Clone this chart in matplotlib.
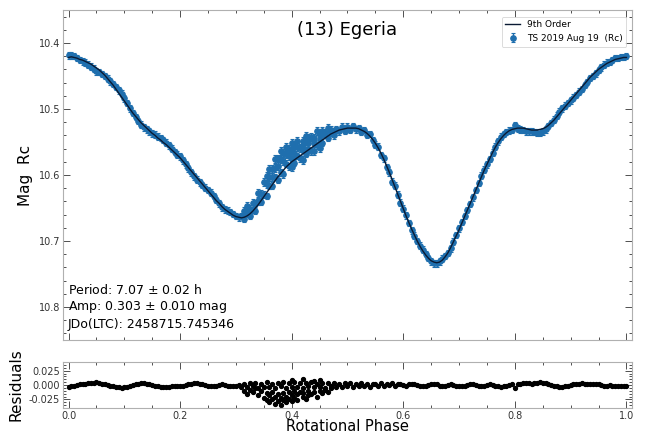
import numpy as np
import matplotlib
matplotlib.use("Agg")
import matplotlib.pyplot as plt
from matplotlib.ticker import AutoMinorLocator, MultipleLocator, FormatStrFormatter

# Rotational phase grid used for the 9th-order Fourier fit and the observations
phase = np.round(np.arange(0, 201) * 0.005, 3)

# 9th-order fit magnitude at each phase
fit_mag = [
    10.422, 10.421, 10.422, 10.423, 10.425, 10.426, 10.428, 10.430, 10.432, 10.435,
    10.438, 10.441, 10.445, 10.449, 10.454, 10.459, 10.464, 10.470, 10.476, 10.482,
    10.488, 10.494, 10.500, 10.506, 10.511, 10.516, 10.521, 10.525, 10.529, 10.533,
    10.537, 10.540, 10.544, 10.547, 10.551, 10.554, 10.558, 10.562, 10.566, 10.570,
    10.574, 10.579, 10.584, 10.589, 10.594, 10.599, 10.604, 10.609, 10.614, 10.619,
    10.624, 10.629, 10.634, 10.639, 10.643, 10.648, 10.652, 10.655, 10.658, 10.661,
    10.663, 10.664, 10.665, 10.664, 10.662, 10.659, 10.655, 10.650, 10.645, 10.639,
    10.633, 10.627, 10.621, 10.615, 10.609, 10.603, 10.598, 10.593, 10.588, 10.584,
    10.580, 10.577, 10.574, 10.571, 10.568, 10.565, 10.562, 10.559, 10.556, 10.553,
    10.550, 10.547, 10.544, 10.541, 10.538, 10.536, 10.534, 10.532, 10.531, 10.530,
    10.529, 10.529, 10.529, 10.529, 10.530, 10.532, 10.534, 10.537, 10.541, 10.546,
    10.552, 10.559, 10.567, 10.576, 10.586, 10.596, 10.607, 10.618, 10.629, 10.640,
    10.651, 10.662, 10.672, 10.682, 10.691, 10.700, 10.708, 10.715, 10.721, 10.726,
    10.730, 10.732, 10.733, 10.732, 10.729, 10.724, 10.718, 10.710, 10.701, 10.692,
    10.683, 10.673, 10.663, 10.653, 10.643, 10.633, 10.623, 10.613, 10.603, 10.593,
    10.584, 10.575, 10.566, 10.558, 10.551, 10.545, 10.540, 10.536, 10.533, 10.531,
    10.530, 10.529, 10.529, 10.529, 10.530, 10.531, 10.532, 10.532, 10.532, 10.531,
    10.530, 10.528, 10.525, 10.521, 10.517, 10.512, 10.507, 10.502, 10.497, 10.492,
    10.487, 10.482, 10.477, 10.472, 10.467, 10.462, 10.457, 10.452, 10.448, 10.444,
    10.440, 10.437, 10.434, 10.431, 10.429, 10.427, 10.425, 10.424, 10.423, 10.422,
    10.422,
]

# Observed minus fit, one value per phase bin
resid = [
    -0.003, -0.002, -0.002, 0.000, 0.001, 0.002, 0.002, 0.003, 0.004, 0.004,
    0.005, 0.003, 0.002, 0.001, 0.000, -0.001, -0.002, -0.003, -0.004, -0.005,
    -0.004, -0.003, -0.001, 0.000, 0.001, 0.002, 0.003, 0.003, 0.002, 0.001,
    0.000, -0.001, -0.002, -0.003, -0.004, -0.003, -0.003, -0.002, -0.001, -0.001,
    -0.002, -0.001, 0.000, 0.001, 0.002, 0.003, 0.003, 0.002, 0.001, 0.000,
    -0.001, -0.002, -0.002, -0.001, 0.000, 0.001, 0.000, -0.001, -0.002, -0.002,
    -0.001, 0.000, -0.003, 0.002, -0.004, 0.003, -0.002, 0.004, -0.005, 0.002,
    -0.003, 0.005, -0.004, 0.001, -0.006, 0.004, -0.002, 0.006, -0.005, 0.003,
    -0.004, 0.005, -0.003, 0.004, -0.006, 0.003, -0.002, 0.005, -0.004, 0.002,
    -0.003, 0.004, -0.005, 0.003, -0.002, 0.004, -0.003, 0.002, -0.004, 0.003,
    -0.002, 0.003, -0.003, 0.002, -0.001, 0.003, -0.002, 0.002, -0.003, 0.001,
    0.002, -0.002, 0.003, -0.001, 0.002, 0.000, 0.003, -0.002, 0.001, 0.002,
    0.000, -0.001, 0.001, 0.002, 0.001, 0.000, -0.001, -0.002, -0.001, 0.000,
    0.001, 0.002, 0.001, -0.001, -0.002, -0.001, 0.000, 0.001, 0.000, -0.001,
    -0.002, -0.002, -0.001, 0.000, 0.001, 0.001, 0.000, -0.001, -0.002, -0.001,
    0.000, 0.001, 0.000, -0.001, -0.002, -0.003, -0.002, -0.001, 0.000, 0.001,
    -0.005, 0.001, 0.002, 0.003, 0.004, 0.003, 0.002, 0.003, 0.004, 0.005,
    0.004, 0.003, 0.001, 0.000, -0.001, -0.002, -0.003, -0.003, -0.002, -0.001,
    0.000, 0.001, 0.002, 0.002, 0.003, 0.002, 0.002, 0.001, 0.002, 0.002,
    0.001, 0.000, -0.001, -0.001, 0.000, -0.001, -0.002, -0.001, -0.002, -0.001,
    -0.002,
]

# Extra observations around phase 0.31-0.47 that scatter brighter than the fit
scatter_phase = [
    0.315, 0.320, 0.325, 0.330, 0.335, 0.340, 0.345, 0.350, 0.355, 0.355,
    0.360, 0.360, 0.365, 0.365, 0.370, 0.370, 0.375, 0.375, 0.380, 0.380,
    0.385, 0.385, 0.390, 0.390, 0.395, 0.395, 0.400, 0.400, 0.405, 0.405,
    0.410, 0.410, 0.415, 0.420, 0.420, 0.425, 0.430, 0.430, 0.435, 0.440,
    0.445, 0.450, 0.455, 0.460, 0.465, 0.470, 0.400, 0.420, 0.440, 0.450,
]
scatter_resid = [
    -0.010, -0.015, -0.008, -0.012, -0.006, -0.018, -0.010, -0.022, -0.014, -0.026,
    -0.018, -0.030, -0.012, -0.024, -0.020, -0.033, -0.016, -0.028, -0.022, -0.035,
    -0.014, -0.026, -0.020, -0.030, -0.012, -0.024, -0.018, -0.028, -0.010, -0.022,
    -0.016, -0.026, -0.012, -0.020, -0.014, -0.024, -0.010, -0.018, -0.016, -0.012,
    -0.020, -0.010, -0.014, -0.008, -0.012, -0.006, 0.008, 0.010, 0.007, 0.009,
]

mag_err = 0.005
scatter_err = 0.006

legend_fit = "9th Order"
legend_obs = "TS 2019 Aug 19  (Rc)"
title = "(13) Egeria"
info_lines = [
    r"Period: 7.07 $\pm$ 0.02 h",
    r"Amp: 0.303 $\pm$ 0.010 mag",
    "JDo(LTC): 2458715.745346",
]

fit_mag = np.array(fit_mag)
resid = np.array(resid)
obs_mag = fit_mag + resid

idx = np.searchsorted(phase, np.round(scatter_phase, 3))
scatter_mag = fit_mag[idx] + np.array(scatter_resid)

all_phase = np.concatenate([phase, scatter_phase])
all_mag = np.concatenate([obs_mag, scatter_mag])
all_err = np.concatenate([np.full(len(phase), mag_err), np.full(len(scatter_phase), scatter_err)])
all_resid = np.concatenate([resid, scatter_resid])

blue = "#1f6fae"
spine_col = "#b0b0b0"

fig = plt.figure(figsize=(6.46, 4.36), dpi=100)
ax = fig.add_axes([0.0975, 0.2202, 0.8808, 0.757])
axr = fig.add_axes([0.0975, 0.0642, 0.8808, 0.1055], sharex=ax)

ax.errorbar(all_phase, all_mag, yerr=all_err, fmt="o", ms=3.8, color=blue,
            ecolor=blue, elinewidth=1.0, capsize=1.3, capthick=0.8,
            label=legend_obs, zorder=2)
ax.plot(phase, fit_mag, color="#0a1a33", lw=1.0, label=legend_fit, zorder=3)

ax.set_xlim(-0.01, 1.01)
ax.set_ylim(10.85, 10.35)
ax.set_ylabel("Mag  Rc", fontsize=11)
ax.text(0.5, 0.94, title, transform=ax.transAxes, ha="center", va="center", fontsize=13)
for i, line in enumerate(info_lines):
    ax.text(0.009, 0.152 - i * 0.052, line, transform=ax.transAxes,
            ha="left", va="center", fontsize=9)

leg = ax.legend(loc="upper right", fontsize=6.5, frameon=True, borderpad=0.4,
                handlelength=1.6, bbox_to_anchor=(0.998, 0.993))
leg.get_frame().set_edgecolor("#cccccc")
leg.get_frame().set_linewidth(0.6)

axr.plot(all_phase, all_resid, "o", ms=2.8, color="black", zorder=2)
axr.set_ylim(-0.04, 0.04)
axr.set_xlabel("Rotational Phase", fontsize=10.5, labelpad=-1)
axr.set_ylabel("Residuals", fontsize=11)
axr.yaxis.set_major_locator(MultipleLocator(0.025))
axr.yaxis.set_major_formatter(FormatStrFormatter("%.3f"))

for a in (ax, axr):
    a.xaxis.set_major_locator(MultipleLocator(0.2))
    a.xaxis.set_minor_locator(AutoMinorLocator(4))
    a.yaxis.set_minor_locator(AutoMinorLocator(5))
    a.tick_params(which="both", direction="in", top=True, right=True,
                  labelsize=7, colors="#333333", width=0.6, pad=2)
    a.tick_params(which="major", length=5)
    a.tick_params(which="minor", length=2.5)
    for s in a.spines.values():
        s.set_color(spine_col)
        s.set_linewidth(0.8)
ax.tick_params(labelbottom=False)

fig.savefig("out.png", dpi=100)
